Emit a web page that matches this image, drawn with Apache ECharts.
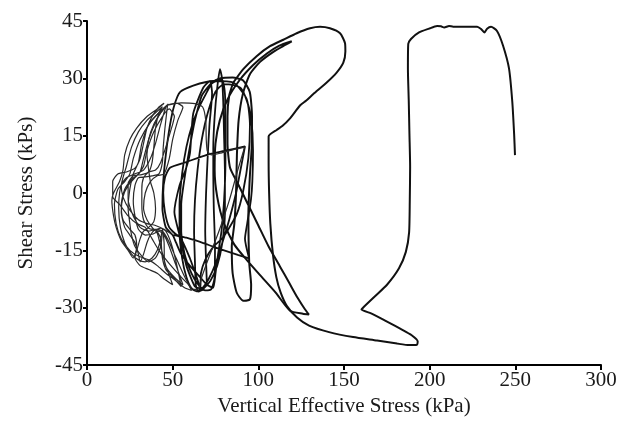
<!DOCTYPE html>
<html>
<head>
<meta charset="utf-8">
<script src="https://cdn.jsdelivr.net/npm/echarts@6/dist/echarts.min.js"></script>
<style>
  html, body { margin: 0; padding: 0; background: #fff; }
  #chart { width: 622px; height: 422px; }
</style>
</head>
<body>
<div id="chart"></div>
<script>
// Stress path of a cyclic simple shear test: [vertical effective stress (kPa), shear stress (kPa)]

// Axis ticks
const xTicks = [0, 50, 100, 150, 200, 250, 300];
const yTicks = [-45, -30, -15, 0, 15, 30, 45];

// Initial loading and first full cycle
const firstCycle = [
  [249.8, 9.9], [249.3, 15.4], [248.2, 24.0], [246.3, 32.6], [242.8, 38.6], [239.3, 42.4],
  [235.8, 43.5], [233.5, 43.0], [231.9, 42.0], [230.0, 42.9], [227.7, 43.5], [213.7, 43.5],
  [211.3, 43.7], [208.5, 43.3], [206.6, 43.6], [204.3, 43.7], [199.6, 43.0], [193.8, 42.0],
  [189.1, 40.3], [187.5, 39.0], [187.3, 32.6], [187.8, 24.0], [188.2, 15.4], [188.6, 6.9],
  [188.4, -1.7], [188.0, -10.3], [186.1, -15.4], [182.1, -19.7], [175.1, -24.0], [168.1, -27.0],
  [161.1, -30.0], [160.2, -30.5], [165.8, -31.5], [174.0, -33.4], [183.3, -35.6], [189.5, -37.2],
  [193.0, -38.8], [192.5, -39.7], [188.0, -39.8], [181.0, -39.4], [169.3, -38.6], [155.3, -37.7],
  [141.3, -36.4], [129.6, -34.7], [122.6, -32.6], [116.6, -29.5], [113.0, -26.0], [110.5, -22.0],
  [108.5, -16.0], [107.0, -8.0], [106.3, 0.0], [106.0, 8.0], [106.0, 14.8], [110.7, 16.5],
  [114.0, 17.5], [118.5, 19.5], [124.3, 22.9], [128.0, 24.2], [132.1, 25.9], [139.9, 28.9],
  [145.7, 31.5], [149.6, 34.1], [150.8, 37.0], [150.6, 39.2], [147.7, 41.8], [141.8, 43.1],
  [136.0, 43.5], [130.2, 43.1], [122.4, 41.8], [114.6, 40.1], [106.8, 38.4], [99.0, 35.8],
  [91.2, 32.4], [85.4, 28.9]
];

// Second and third cycles
const earlyCycles = [
  [85.4, 28.9], [83.0, 25.5], [82.0, 20.0], [82.0, 13.0], [83.5, 6.6], [88.0, 2.5], [94.0, -3.0],
  [100.0, -8.5], [106.0, -14.0], [112.6, -19.2], [118.0, -23.5], [123.0, -27.5], [127.0, -30.3],
  [129.5, -31.8], [126.0, -31.6], [118.5, -30.8], [110.0, -26.0], [101.0, -21.5], [93.2, -17.5],
  [86.0, -13.5], [80.0, -8.0], [76.0, -1.0], [74.5, 6.0], [75.0, 13.0], [77.5, 19.0], [82.0, 24.5],
  [89.0, 29.5], [97.0, 33.5], [105.0, 36.5], [112.0, 38.5], [119.5, 39.7], [116.0, 38.8],
  [109.0, 37.0], [101.0, 34.3], [95.0, 31.0], [91.0, 26.0], [88.5, 19.0], [87.5, 10.0], [87.0, 0.0],
  [86.0, -8.0], [84.5, -14.0], [85.0, -21.0], [87.4, -26.1], [91.2, -28.2], [95.1, -27.8],
  [95.8, -24.0], [94.7, -18.4], [94.2, -5.5], [95.1, 4.8], [96.1, 11.7], [96.3, 20.0], [95.0, 26.4],
  [91.0, 29.5], [85.0, 30.2], [78.0, 30.0], [72.0, 28.5]
];

// Intermediate cycles
const middleCycles = [
  [72.0, 28.5], [67.0, 25.5], [63.0, 19.0], [60.0, 12.0], [57.0, 4.0], [55.0, -3.0], [55.0, -10.0],
  [57.0, -16.0], [61.0, -21.0], [65.0, -24.0], [69.0, -25.5], [72.5, -25.2], [74.5, -22.0],
  [74.7, -14.0], [74.0, -4.0], [73.7, 5.0], [73.7, 11.7], [74.5, 20.0], [76.0, 27.5], [77.6, 32.4],
  [78.8, 30.0], [79.5, 24.0], [80.0, 15.0], [80.5, 5.0], [80.5, -5.0], [79.0, -13.0], [76.0, -19.0],
  [72.0, -23.0], [68.0, -25.0], [65.0, -25.8], [63.5, -24.0], [63.0, -18.0], [62.5, -10.0],
  [63.0, -2.0], [64.5, 6.0], [67.0, 14.0], [70.5, 21.0], [75.0, 26.5], [80.0, 28.5], [85.0, 28.3],
  [89.9, 27.4], [93.0, 24.5], [95.7, 20.0], [96.9, 11.1], [96.5, 3.0], [95.7, -1.7], [93.5, -8.0],
  [92.2, -12.0], [94.6, -17.1], [88.0, -16.2], [80.0, -15.0], [74.7, -14.2], [66.0, -12.8],
  [58.0, -11.7], [52.5, -11.0], [48.0, -9.0], [45.5, -5.0], [44.5, 0.0], [45.5, 4.0], [48.4, 6.6],
  [58.0, 8.1], [69.9, 10.0], [80.0, 11.0], [92.2, 12.2], [90.0, 7.0], [87.0, 0.0], [83.0, -7.0],
  [79.0, -13.0], [75.0, -18.5], [71.0, -22.5], [67.5, -24.8], [64.0, -25.7], [61.0, -25.0],
  [58.0, -22.0], [55.5, -17.0], [54.0, -10.0], [54.0, -3.0], [55.5, 5.0], [58.0, 12.0], [61.5, 18.0],
  [65.5, 22.5], [69.5, 26.0], [73.0, 28.8], [76.5, 29.8], [79.0, 29.5], [80.5, 26.0], [80.8, 18.0],
  [80.8, 8.0], [80.0, -2.0], [78.5, -10.0], [76.5, -16.0], [75.0, -21.0], [73.6, -24.8], [70.0, -24.0],
  [66.0, -22.0], [60.0, -19.0], [55.0, -16.0], [52.0, -13.0], [50.0, -11.0], [46.0, -9.0],
  [44.0, -4.0], [44.5, 3.0], [46.0, 10.0], [48.4, 17.7], [51.0, 23.0], [54.3, 26.4], [62.0, 28.1],
  [73.7, 29.3], [85.4, 28.9], [93.2, 24.6], [95.1, 17.7], [94.2, 9.2], [91.2, 0.6], [87.4, -5.5],
  [79.6, -11.5], [73.7, -14.1], [69.0, -17.5], [66.5, -21.0], [66.0, -25.0], [63.0, -24.5],
  [58.0, -19.0], [54.3, -11.5], [51.0, -5.0], [54.0, 2.0], [57.5, 6.0], [60.1, 10.4], [62.0, 20.8],
  [67.9, 27.6], [71.8, 29.3], [73.0, 26.0], [71.5, 18.0], [70.5, 10.0], [69.5, 0.0], [69.0, -10.0],
  [69.5, -18.0], [69.9, -23.5], [67.0, -25.5], [64.0, -22.0], [60.0, -17.0], [54.3, -11.5],
  [50.0, -11.0]
];

// Late cycles near liquefaction (butterfly loops)
const butterflyCycles = [
  [50.0, -11.0], [45.0, -9.5], [40.0, -8.5], [35.0, -8.0], [30.0, -7.0], [25.0, -4.5], [21.0, -1.0],
  [20.0, 2.0], [23.0, 4.0], [28.0, 5.0], [33.0, 6.0], [37.0, 9.0], [40.0, 13.0], [43.0, 18.0],
  [46.0, 22.5], [47.5, 23.3], [43.0, 21.5], [37.0, 18.5], [31.0, 14.0], [27.0, 9.0], [25.0, 5.0],
  [22.0, 3.0], [18.0, 1.0], [16.0, -3.0], [17.0, -8.0], [20.0, -12.0], [25.0, -15.0], [30.0, -16.5],
  [36.0, -17.5], [41.0, -19.0], [46.0, -21.0], [52.0, -23.0], [57.0, -24.8], [61.0, -25.5],
  [56.0, -21.0], [51.0, -16.0], [47.0, -12.0], [44.0, -10.0], [40.0, -9.5], [36.0, -10.0],
  [31.0, -9.0], [27.0, -6.0], [24.0, -1.5], [24.0, 2.5], [27.0, 4.5], [32.0, 4.8], [36.0, 5.5],
  [38.0, 8.0], [39.0, 12.0], [40.0, 17.0], [42.0, 21.0], [44.0, 22.6], [40.0, 21.0], [35.0, 19.0],
  [30.0, 16.0], [26.0, 12.0], [23.0, 7.0], [21.0, 4.0], [19.0, 0.0], [18.5, -4.0], [19.5, -9.0],
  [22.0, -13.0], [26.0, -16.0], [30.0, -17.5], [34.0, -18.0], [38.0, -17.0], [41.0, -15.0],
  [43.0, -12.0], [44.0, -9.5], [45.0, -13.0], [45.2, -18.0], [47.0, -20.0], [52.0, -22.5],
  [56.0, -24.0], [52.0, -19.0], [48.0, -14.0], [45.0, -11.0], [42.0, -10.0], [38.0, -10.8],
  [34.0, -11.0], [30.0, -9.5], [28.0, -6.0], [27.0, -2.0], [28.0, 2.0], [30.0, 4.0], [34.0, 4.2],
  [38.0, 4.5], [42.0, 5.0], [44.0, 8.0], [44.5, 12.0], [45.5, 17.0], [46.5, 21.0], [47.0, 23.0],
  [44.0, 21.7], [40.0, 18.5], [36.0, 14.0], [33.0, 9.0], [31.0, 5.5], [28.0, 4.0], [24.0, 2.0],
  [21.0, -1.0], [20.0, -5.0], [22.0, -9.0], [25.0, -11.0], [28.0, -13.0], [30.0, -16.0],
  [31.0, -18.0], [33.0, -16.0], [35.0, -13.0], [37.0, -11.0], [40.0, -9.5], [43.0, -12.0],
  [44.0, -17.0], [46.0, -20.0], [50.0, -22.0], [55.0, -24.5], [52.0, -18.0], [49.0, -13.0],
  [46.0, -10.0], [43.0, -9.2], [40.0, -9.5], [36.0, -9.2], [33.0, -7.0], [32.0, -3.0], [32.0, 1.0],
  [33.0, 4.0], [36.0, 5.5], [40.0, 6.0], [43.0, 8.0], [46.0, 12.0], [48.0, 15.0], [50.0, 18.0],
  [51.0, 20.0], [48.0, 22.0], [44.0, 20.0], [39.0, 16.0], [35.0, 11.0], [33.0, 7.0], [30.0, 5.0],
  [26.0, 3.5], [22.0, 1.0], [20.0, -3.0], [21.0, -7.0], [25.0, -9.5], [28.0, -11.0], [29.0, -14.0],
  [28.0, -17.0], [31.0, -19.0], [36.0, -20.0], [41.0, -21.0], [45.0, -22.5], [50.0, -24.0],
  [46.0, -19.0], [43.0, -14.0], [41.0, -10.5], [38.0, -9.0], [35.0, -7.0], [33.0, -4.0], [34.0, 0.0],
  [37.0, 3.0], [41.0, 4.5], [45.0, 5.0], [48.0, 9.0], [50.0, 14.0], [53.0, 19.0], [56.0, 22.5],
  [52.0, 23.5], [47.0, 23.0], [55.0, 23.6], [63.0, 23.4], [67.5, 22.5], [69.3, 19.0], [69.6, 14.0],
  [70.2, 11.0], [72.5, 10.0], [77.6, 10.4], [85.0, 11.3], [92.0, 12.0], [88.0, 6.0], [83.0, -2.0],
  [77.0, -10.0], [71.0, -17.0], [67.0, -22.0], [65.0, -25.0], [62.0, -25.2]
];

// Final cycles at low effective stress
const finalCycles = [
  [62.0, -25.2], [55.0, -22.0], [48.0, -18.5], [42.0, -15.0], [38.0, -12.0], [34.0, -9.0],
  [29.0, -8.0], [24.0, -6.0], [19.0, -3.0], [15.0, -1.0], [15.0, 3.0], [18.0, 5.0], [23.0, 5.5],
  [28.0, 6.5], [31.0, 9.0], [33.0, 13.0], [35.0, 17.0], [38.0, 20.0], [42.0, 22.5], [45.0, 23.5],
  [41.0, 22.0], [35.0, 20.0], [29.0, 17.0], [25.0, 14.0], [22.0, 10.0], [21.0, 6.0], [19.0, 3.0],
  [15.5, 0.0], [14.5, -2.0], [15.5, -6.0], [17.0, -9.0], [20.0, -12.5], [24.0, -15.0], [27.0, -17.0],
  [29.0, -15.0], [31.0, -12.0], [33.0, -10.0], [36.0, -9.0], [39.0, -7.5], [40.0, -4.0], [39.0, 0.0],
  [37.0, 3.0], [36.0, 6.0], [35.0, 10.0], [36.0, 14.0], [39.0, 18.0], [43.0, 21.0], [46.0, 22.5],
  [42.0, 21.0], [36.0, 18.0], [32.0, 13.0], [30.0, 8.0], [27.0, 5.0], [25.0, 1.0], [24.0, -4.0],
  [25.0, -8.0], [26.0, -11.0], [28.0, -14.0], [32.0, -16.5], [36.0, -18.0], [40.0, -17.0],
  [43.0, -14.0], [44.0, -10.0]
];

const serif = 'Liberation Serif, Times New Roman, serif';
const axisFont = { fontFamily: serif, fontSize: 21, color: '#1a1a1a' };
const axisLine = { onZero: false, lineStyle: { color: '#000', width: 2 } };

const chart = echarts.init(document.getElementById('chart'));

function pathSeries(data, width, color) {
  return {
    type: 'line',
    data: data,
    showSymbol: false,
    smooth: 0.2,
    animation: false,
    lineStyle: { color: color, width: width },
    silent: true
  };
}

chart.setOption({
  animation: false,
  backgroundColor: '#fff',
  grid: { left: 87, right: 21, top: 21, bottom: 52, containLabel: false },
  xAxis: {
    type: 'value',
    min: xTicks[0],
    max: xTicks[xTicks.length - 1],
    interval: 50,
    name: 'Vertical Effective Stress (kPa)',
    nameLocation: 'middle',
    nameGap: 31,
    nameTextStyle: axisFont,
    axisLine: axisLine,
    axisTick: { show: true, length: 5, inside: false, lineStyle: { color: '#000', width: 2 } },
    axisLabel: Object.assign({ margin: 5 }, axisFont),
    splitLine: { show: false }
  },
  yAxis: {
    type: 'value',
    min: yTicks[0],
    max: yTicks[yTicks.length - 1],
    interval: 15,
    name: 'Shear Stress (kPs)',
    nameLocation: 'middle',
    nameGap: 50,
    nameRotate: 90,
    nameTextStyle: axisFont,
    axisLine: axisLine,
    axisTick: { show: true, length: 4, inside: false, lineStyle: { color: '#000', width: 2 } },
    axisLabel: Object.assign({ margin: 4 }, axisFont),
    splitLine: { show: false }
  },
  series: [
    pathSeries(firstCycle, 2, '#111'),
    pathSeries(earlyCycles, 2, '#111'),
    pathSeries(middleCycles, 1.8, '#111'),
    pathSeries(butterflyCycles, 1.2, '#2a2a2a'),
    pathSeries(finalCycles, 1.2, '#2a2a2a')
  ]
});
</script>
</body>
</html>
